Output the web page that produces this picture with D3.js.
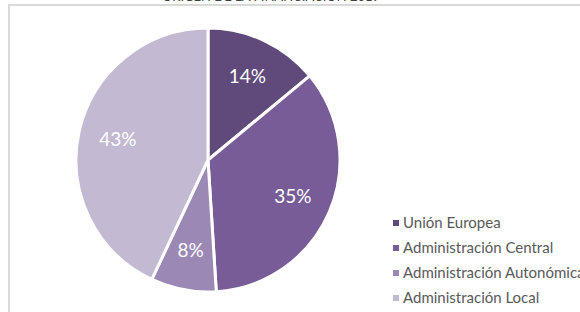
<!DOCTYPE html>
<html>
<head>
<meta charset="utf-8">
<script src="https://cdn.jsdelivr.net/npm/d3@7"></script>
<style>
  body { margin: 0; background: #fff; }
  svg { display: block; font-family: Lato, "Open Sans", sans-serif; }
</style>
</head>
<body>
<div id="chart"></div>
<script>
// datos
const categorias = ['Unión Europea', 'Administración Central', 'Administración Autonómica', 'Administración Local'];
const porcentajes = [14, 35, 8, 43];
const colores = ['#60497b', '#775c97', '#9b88b4', '#c3b9d2'];
const titulo = 'ORIGEN DE LA FINANCIACIÓN 2019';

const width = 580, height = 312;
const cx = 208, cy = 160, radius = 132;

const svg = d3.select('#chart').append('svg')
    .attr('width', width)
    .attr('height', height);

// marco del gráfico
svg.append('rect')
    .attr('x', 9).attr('y', 5)
    .attr('width', 600).attr('height', 340)
    .attr('fill', 'none')
    .attr('stroke', '#d9d9d9')
    .attr('stroke-width', 2);

// título (cortado arriba, como en el original)
svg.append('text')
    .attr('x', 271).attr('y', 1)
    .attr('text-anchor', 'middle')
    .attr('font-size', 13)
    .attr('fill', '#404040')
    .text(titulo);

const data = categorias.map((c, i) => ({ cat: c, value: porcentajes[i], color: colores[i] }));

const pie = d3.pie().value(d => d.value).sort(null);
const arc = d3.arc().innerRadius(0).outerRadius(radius);
const labelArc = d3.arc().innerRadius(radius * 0.7).outerRadius(radius * 0.7);

const g = svg.append('g').attr('transform', `translate(${cx},${cy})`);

const slices = g.selectAll('.slice')
    .data(pie(data))
    .enter().append('g')
    .attr('class', 'slice');

slices.append('path')
    .attr('d', arc)
    .attr('fill', d => d.data.color)
    .attr('stroke', '#fff')
    .attr('stroke-width', 3)
    .attr('stroke-linejoin', 'round');

slices.append('text')
    .attr('transform', d => `translate(${labelArc.centroid(d)})`)
    .attr('text-anchor', 'middle')
    .attr('dy', '0.35em')
    .attr('fill', '#fff')
    .attr('font-size', 19)
    .text(d => d.data.value + '%');

// leyenda
const legend = svg.append('g').attr('transform', 'translate(393,223)');
const item = legend.selectAll('.item')
    .data(data)
    .enter().append('g')
    .attr('class', 'item')
    .attr('transform', (d, i) => `translate(0,${i * 25})`);

item.append('rect')
    .attr('x', 0).attr('y', -3)
    .attr('width', 6).attr('height', 6)
    .attr('fill', d => d.color);

item.append('text')
    .attr('x', 10)
    .attr('dy', '0.35em')
    .attr('font-size', 15)
    .attr('fill', '#595959')
    .text(d => d.cat);
</script>
</body>
</html>
